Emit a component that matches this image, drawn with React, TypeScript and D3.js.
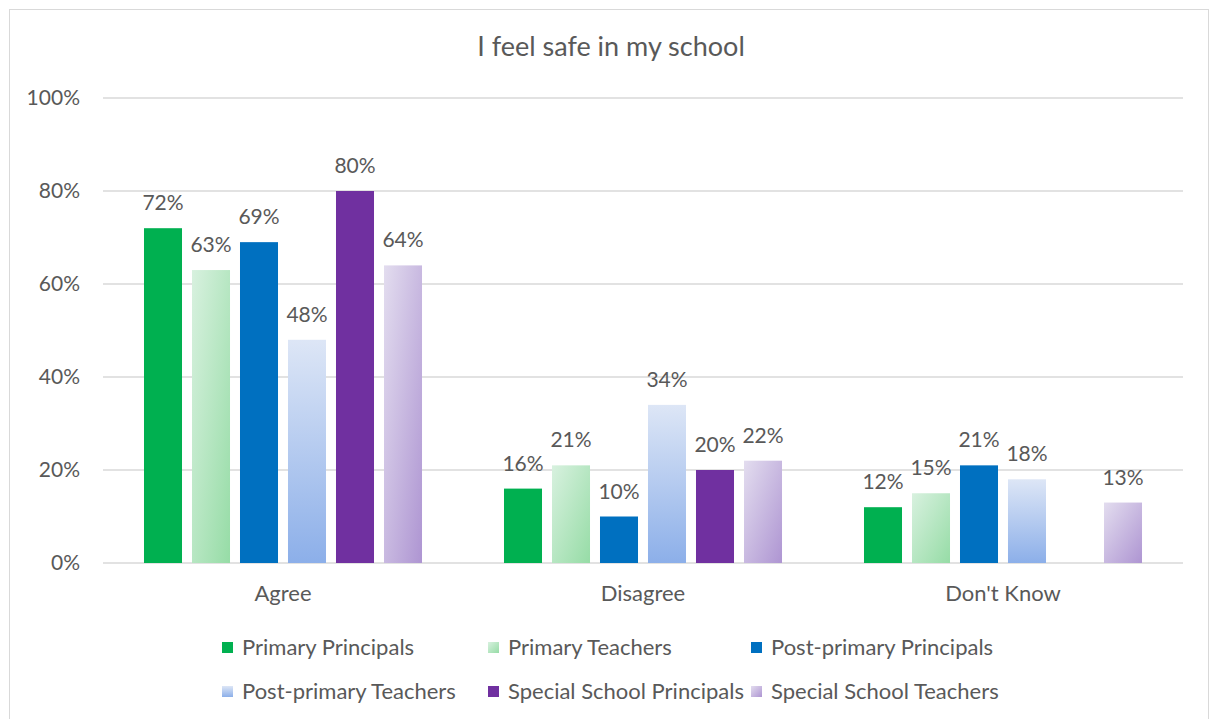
import React, { useEffect } from "react";
import * as d3 from "d3";

const title = "I feel safe in my school";
const categories = ["Agree", "Disagree", "Don't Know"];
const seriesNames = [
  "Primary Principals",
  "Primary Teachers",
  "Post-primary Principals",
  "Post-primary Teachers",
  "Special School Principals",
  "Special School Teachers",
];
const primaryPrincipals = [72, 16, 12];
const primaryTeachers = [63, 21, 15];
const postPrimaryPrincipals = [69, 10, 21];
const postPrimaryTeachers = [48, 34, 18];
const specialSchoolPrincipals = [80, 20, null];
const specialSchoolTeachers = [64, 22, 13];
const seriesValues = [
  primaryPrincipals,
  primaryTeachers,
  postPrimaryPrincipals,
  postPrimaryTeachers,
  specialSchoolPrincipals,
  specialSchoolTeachers,
];
const yTicks = [0, 20, 40, 60, 80, 100];

const fills = [
  "#00b050",
  "url(#gPT)",
  "#0070c0",
  "url(#gPPT)",
  "#7030a0",
  "url(#gSST)",
];

const FONT = "Lato, 'Open Sans', sans-serif";
const TEXT = "#595959";

export default function App() {
  useEffect(() => {
    document.body.style.margin = "0";
  }, []);
  const W = 1218;
  const H = 719;
  const left = 103;
  const right = 1183;
  const top = 98;
  const bottom = 563;

  const x0 = d3.scaleBand<string>().domain(categories).range([left, right]).padding(0);
  const x1 = d3
    .scaleBand<string>()
    .domain(seriesNames)
    .range([0, x0.bandwidth()])
    .paddingInner(0.208)
    .paddingOuter(0.854);
  const y = d3.scaleLinear().domain([0, 100]).range([bottom, top]);

  const legendCols = [222, 488, 751];
  const legendRows = [647, 691];

  return (
    <svg width={W} height={H} style={{ display: "block", fontFamily: FONT }}>
      <defs>
        <linearGradient id="gPT" x1="0" y1="0" x2="1" y2="1">
          <stop offset="0" stopColor="#d8f1df" />
          <stop offset="1" stopColor="#96dca6" />
        </linearGradient>
        <linearGradient id="gPPT" x1="0" y1="0" x2="0" y2="1">
          <stop offset="0" stopColor="#dde6f6" />
          <stop offset="1" stopColor="#8cafe9" />
        </linearGradient>
        <linearGradient id="gSST" x1="0" y1="0" x2="1" y2="1">
          <stop offset="0" stopColor="#e3ddef" />
          <stop offset="1" stopColor="#ae95d2" />
        </linearGradient>
      </defs>
      <rect x={0} y={0} width={W} height={H} fill="#fff" />
      <rect x={9.5} y={9.5} width={1199} height={730} fill="#fff" stroke="#d9d9d9" strokeWidth={1} />
      <text x={611} y={56} textAnchor="middle" fontSize={27} fill={TEXT}>
        {title}
      </text>
      {yTicks.map((t) => (
        <g key={t}>
          <line x1={left} x2={right} y1={y(t)} y2={y(t)} stroke="#d9d9d9" strokeWidth={1.5} />
          <text x={80} y={y(t)} dy="0.35em" textAnchor="end" fontSize={21} fill={TEXT}>
            {t}%
          </text>
        </g>
      ))}
      {categories.map((c, ci) => (
        <g key={c}>
          {seriesNames.map((s, si) => {
            const v = seriesValues[si][ci];
            if (v === null || v === undefined) return null;
            const bx = (x0(c) as number) + (x1(s) as number);
            const bw = x1.bandwidth();
            return (
              <g key={s}>
                <rect x={bx} y={y(v)} width={bw} height={y(0) - y(v)} fill={fills[si]} />
                <text x={bx + bw / 2} y={y(v) - 18} textAnchor="middle" fontSize={21} fill={TEXT}>
                  {v}%
                </text>
              </g>
            );
          })}
          <text x={(x0(c) as number) + x0.bandwidth() / 2} y={601} textAnchor="middle" fontSize={22} fill={TEXT}>
            {c}
          </text>
        </g>
      ))}
      {seriesNames.map((s, i) => {
        const lx = legendCols[i % 3];
        const ly = legendRows[Math.floor(i / 3)];
        return (
          <g key={s}>
            <rect x={lx} y={ly - 5} width={11} height={11} fill={fills[i]} />
            <text x={lx + 20} y={ly} dy="0.35em" fontSize={22} fill={TEXT}>
              {s}
            </text>
          </g>
        );
      })}
    </svg>
  );
}
